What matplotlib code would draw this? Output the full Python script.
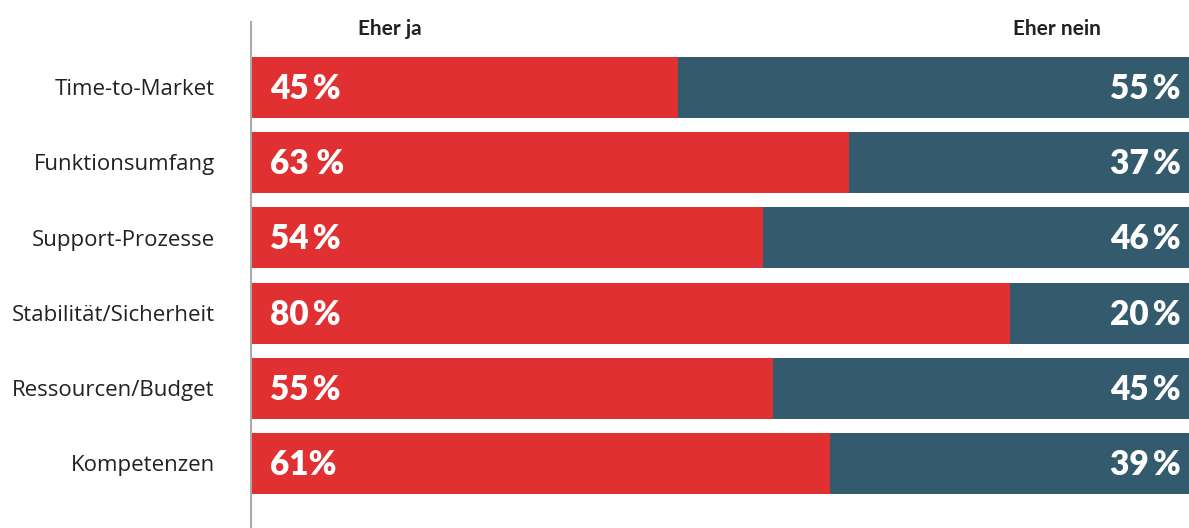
import matplotlib.pyplot as plt

# Survey data
categories = ['Time-to-Market', 'Funktionsumfang', 'Support-Prozesse',
              'Stabilität/Sicherheit', 'Ressourcen/Budget', 'Kompetenzen']
yes_values = [45, 63, 54, 80, 55, 61]
no_values = [55, 37, 46, 20, 45, 39]
yes_sep = ['\u2009', ' ', '\u2009', '\u2009', '\u2009', '']
no_sep = ['\u2009', '\u2009', '\u2009', '\u2009', '\u2009', '\u2009']

red = '#e03032'
teal = '#345b6d'
font = ['Lato', 'DejaVu Sans']
label_font = ['Open Sans', 'DejaVu Sans']

fig = plt.figure(figsize=(11.89, 5.28), dpi=100)
ax = fig.add_axes([251 / 1189, 0, 1 - 251 / 1189, 1])

y = list(range(len(categories)))
ax.barh(y, yes_values, height=0.81, color=red)
ax.barh(y, no_values, left=yes_values, height=0.81, color=teal)

for i in y:
    ax.text(2, i + 0.02, f"{yes_values[i]}{yes_sep[i]}%", color='white', fontsize=24,
            fontweight='heavy', va='center', ha='left', family=font)
    ax.text(98, i + 0.02, f"{no_values[i]}{no_sep[i]}%", color='white', fontsize=24,
            fontweight='heavy', va='center', ha='right', family=font)
    ax.text(-3.8, i + 0.03, categories[i], color='#222222', fontsize=16,
            va='center', ha='right', family=label_font)

# Column headers
ax.text(14.6, -0.78, 'Eher ja', fontsize=15, fontweight='bold', color='#222222',
        ha='center', va='center', family=font)
ax.text(85, -0.78, 'Eher nein', fontsize=15, fontweight='bold', color='#222222',
        ha='center', va='center', family=font)

ax.set_xlim(0, 98.9)
ax.set_ylim(5.858, -1.164)
ax.plot([0, 0], [-0.87, 5.858], color='#aaaaaa', lw=1.5, clip_on=False)
ax.axis('off')

fig.savefig('out.png', dpi=100)
